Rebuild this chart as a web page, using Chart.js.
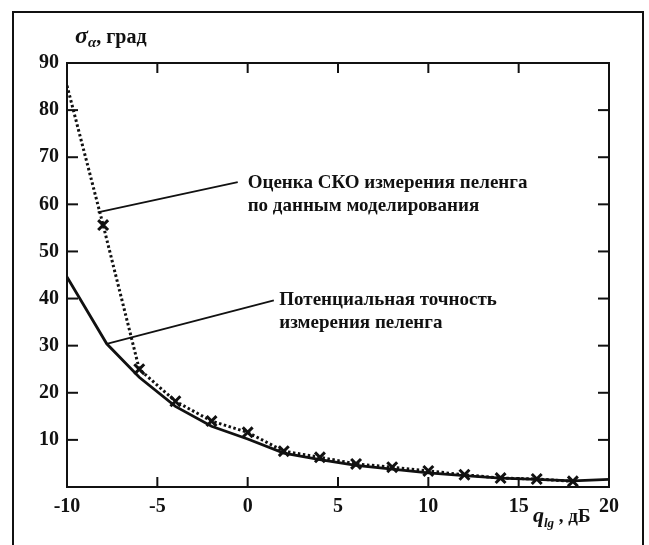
<!DOCTYPE html>
<html>
<head>
<meta charset="utf-8">
<script src="https://cdn.jsdelivr.net/npm/chart.js@4"></script>
<style>
  body { margin: 0; background: #fff; }
</style>
</head>
<body>
<canvas id="grafico" width="649" height="545"></canvas>
<script>
// q_lg, дБ  ->  sigma, град
const snrTeor = [-10, -7.8, -6, -4, -2, 0, 2, 4, 6, 8, 10, 12, 14, 16, 18, 20];
const sigmaTeor = [44.6, 30.4, 23.3, 17.1, 12.9, 10.2, 7.2, 5.8, 4.6, 3.8, 3.0, 2.4, 1.9, 1.6, 1.3, 1.6];

const snrModel = [-10, -8, -6, -4, -2, 0, 2, 4, 6, 8, 10, 12, 14, 16, 18];
const sigmaModel = [85.2, 55.6, 25, 18.2, 14, 11.6, 7.6, 6.3, 4.9, 4.2, 3.4, 2.6, 1.9, 1.7, 1.2];

const xTicks = [-10, -5, 0, 5, 10, 15, 20];
const yTicks = [10, 20, 30, 40, 50, 60, 70, 80, 90];

const notas = [
    { lineas: ["Оценка СКО измерения пеленга", "по данным моделирования"], desde: [-8.3, 58.3], hasta: [-0.55, 64.7], texto: [0, 64.6] },
    { lineas: ["Потенциальная точность", "измерения пеленга"], desde: [-7.8, 30.4], hasta: [1.45, 39.6], texto: [1.75, 39.6] }
];

const negro = '#111';
const fuente = '"Liberation Serif", "Times New Roman", serif';

const decoracion = {
    id: 'decoracion',
    afterDraw(chart) {
        const { ctx, chartArea: a, scales: { x, y } } = chart;
        ctx.save();
        ctx.strokeStyle = negro;
        ctx.fillStyle = negro;
        ctx.lineWidth = 2;
        const linea = (x1, y1, x2, y2) => {
            ctx.beginPath(); ctx.moveTo(x1, y1); ctx.lineTo(x2, y2); ctx.stroke();
        };
        // marco exterior
        ctx.beginPath();
        ctx.moveTo(13, 545); ctx.lineTo(13, 12); ctx.lineTo(643, 12); ctx.lineTo(643, 545);
        ctx.stroke();
        // caja del grafico
        ctx.strokeRect(a.left, a.top, a.right - a.left, a.bottom - a.top);
        // marcas hacia adentro
        xTicks.forEach(v => {
            if (v <= x.min || v >= x.max) return;
            const px = x.getPixelForValue(v);
            linea(px, a.bottom, px, a.bottom - 10);
            linea(px, a.top, px, a.top + 10);
        });
        yTicks.forEach(v => {
            if (v <= y.min || v >= y.max) return;
            const py = y.getPixelForValue(v);
            linea(a.left, py, a.left + 11, py);
            linea(a.right, py, a.right - 11, py);
        });
        // notas con lineas
        ctx.lineWidth = 1.8;
        ctx.font = 'bold 19px ' + fuente;
        ctx.textBaseline = 'middle';
        ctx.textAlign = 'left';
        notas.forEach(n => {
            linea(x.getPixelForValue(n.desde[0]), y.getPixelForValue(n.desde[1]),
                  x.getPixelForValue(n.hasta[0]), y.getPixelForValue(n.hasta[1]));
            const tx = x.getPixelForValue(n.texto[0]);
            const ty = y.getPixelForValue(n.texto[1]);
            n.lineas.forEach((t, i) => ctx.fillText(t, tx, ty + i * 23));
        });
        // titulo eje y
        ctx.textBaseline = 'alphabetic';
        let cx = 75;
        ctx.font = 'italic bold 24px ' + fuente;
        ctx.fillText('σ', cx, 43); cx += ctx.measureText('σ').width;
        ctx.font = 'italic bold 15px ' + fuente;
        ctx.fillText('α', cx, 47); cx += ctx.measureText('α').width;
        ctx.font = 'bold 20px ' + fuente;
        ctx.fillText(', град', cx, 43);
        // titulo eje x
        cx = 533;
        ctx.font = 'italic bold 22px ' + fuente;
        ctx.fillText('q', cx, 522); cx += ctx.measureText('q').width;
        ctx.font = 'italic bold 13px ' + fuente;
        ctx.fillText('lg', cx, 527); cx += ctx.measureText('lg').width;
        ctx.font = 'bold 19px ' + fuente;
        ctx.fillText(' , дБ', cx, 522);
        ctx.restore();
    }
};

const ctx = document.getElementById('grafico').getContext('2d');

const config = {
    type: 'line',
    data: {
        datasets: [
            {
                label: 'Оценка СКО',
                data: snrModel.map((q, i) => ({ x: q, y: sigmaModel[i] })),
                borderColor: negro,
                borderWidth: 3,
                borderDash: [2.5, 2.5],
                pointStyle: 'crossRot',
                pointRadius: snrModel.map((q, i) => i === 0 ? 0 : 7),
                pointBorderWidth: 3,
                pointBorderColor: negro,
                fill: false,
                tension: 0
            },
            {
                label: 'Потенциальная точность',
                data: snrTeor.map((q, i) => ({ x: q, y: sigmaTeor[i] })),
                borderColor: negro,
                borderWidth: 2.8,
                pointRadius: 0,
                fill: false,
                tension: 0
            }
        ]
    },
    options: {
        responsive: false,
        animation: false,
        devicePixelRatio: 1,
        layout: { padding: { top: 63, right: 40, left: 0, bottom: 0 } },
        plugins: { legend: { display: false }, tooltip: { enabled: false } },
        scales: {
            x: {
                type: 'linear',
                min: -10, max: 20,
                afterBuildTicks: s => { s.ticks = xTicks.map(v => ({ value: v })); },
                afterFit: s => { s.height = 58; },
                grid: { display: false },
                border: { display: false },
                ticks: { color: negro, padding: 0, font: { family: fuente, size: 20, weight: 'bold' } }
            },
            y: {
                min: 0, max: 90,
                afterBuildTicks: s => { s.ticks = yTicks.map(v => ({ value: v })); },
                afterFit: s => { s.width = 67; },
                grid: { display: false },
                border: { display: false },
                ticks: { color: negro, padding: 0, font: { family: fuente, size: 20, weight: 'bold' } }
            }
        }
    },
    plugins: [decoracion]
};

const miGrafico = new Chart(ctx, config);
</script>
</body>
</html>
